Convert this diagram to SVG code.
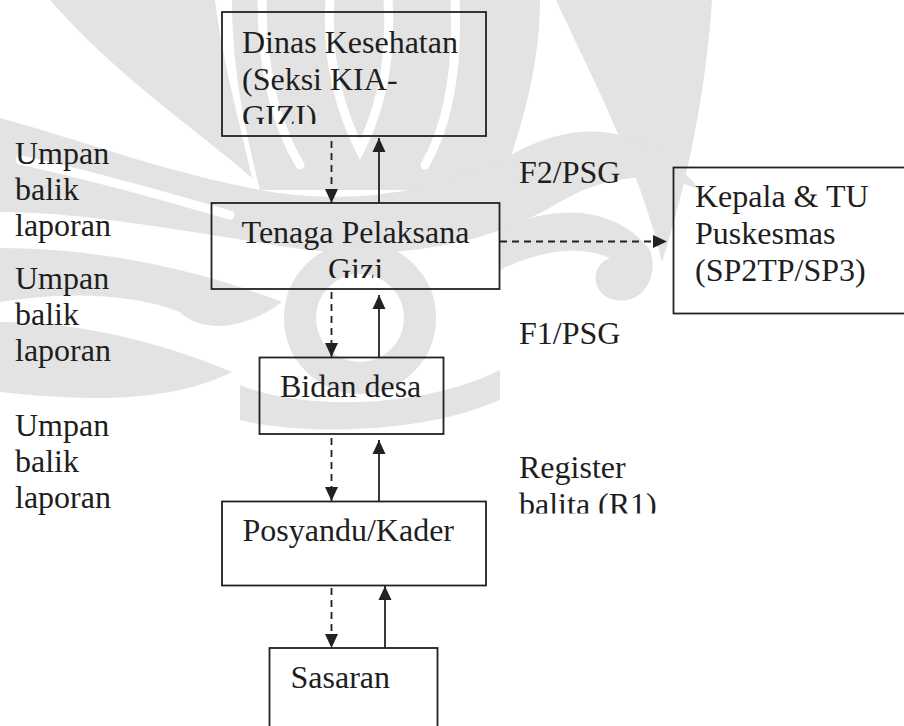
<svg xmlns="http://www.w3.org/2000/svg" width="904" height="726" viewBox="0 0 904 726">
  <style>
    .box { fill: none; stroke: #222; stroke-width: 1.8; }
    .lbl { font-family: "Liberation Serif", "Times New Roman", serif; font-size: 32px; fill: #1e1e1e; }
    .up { stroke: #222; stroke-width: 1.8; fill: none; marker-end: url(#head); }
    .down { stroke: #222; stroke-width: 1.8; fill: none; stroke-dasharray: 7 5; marker-end: url(#head); }
    .emblem { fill: #e3e3e3; }
    .cut { fill: none; stroke: #ffffff; stroke-width: 9; stroke-linecap: round; }
  </style>
  <defs>
    <marker id="head" viewBox="0 0 14 14" refX="14" refY="7" markerWidth="14" markerHeight="14" markerUnits="userSpaceOnUse" orient="auto">
      <path d="M0,0.5 L14,7 L0,13.5 Z" fill="#222"/>
    </marker>
    <clipPath id="clipDinas"><rect x="222" y="12" width="264" height="112"/></clipPath>
    <clipPath id="clipTenaga"><rect x="211" y="203" width="289" height="75"/></clipPath>
    <clipPath id="clipRegister"><rect x="500" y="440" width="200" height="73.5"/></clipPath>
  </defs>

  <rect width="904" height="726" fill="#ffffff"/>

  <!-- faint background emblem -->
  <g id="emblem">
    <!-- outer horns -->
    <path class="emblem" d="M50,0 L215,0 C222,60 238,115 252,178 C200,132 118,78 50,0 Z"/>
    <path class="emblem" d="M556,0 L712,0 C706,90 688,180 662,262 C640,170 598,90 556,0 Z"/>
    <!-- central flames -->
    <path class="emblem" d="M232,0 L540,0 C540,70 520,130 500,190 L260,190 C245,130 232,70 232,0 Z"/>
    <path class="cut" d="M262,0 C262,70 276,125 300,165"/>
    <path class="cut" d="M330,0 C326,60 340,110 360,150 C380,110 392,60 388,0"/>
    <path class="cut" d="M455,0 C458,70 448,125 425,165"/>
    <!-- middle band with side curls -->
    <path class="emblem" d="M0,118 C80,140 160,170 250,188 C330,205 430,200 520,150 C600,110 660,140 700,190 C660,172 610,172 560,202 C480,250 380,262 280,246 C180,230 80,212 0,212 Z"/>
    <path class="cut" d="M20,160 C90,175 160,195 230,215"/>
    <path class="emblem" d="M0,248 C100,248 200,270 282,302 C242,332 200,332 180,312 C130,292 60,292 0,302 Z"/>
    <path class="emblem" d="M0,322 C80,322 160,342 232,372 C172,402 90,402 0,392 Z"/>
    <path class="emblem" d="M500,230 C560,200 620,210 650,250 C660,280 640,305 615,300 C590,295 590,265 610,258 C580,245 540,250 500,270 Z"/>
    <!-- central ring and base -->
    <circle cx="360" cy="318" r="60" fill="none" stroke="#e3e3e3" stroke-width="32"/>
    <path class="emblem" d="M240,385 C300,410 420,410 500,370 L500,400 C420,435 300,435 240,420 Z"/>
  </g>

  <!-- arrows between levels -->
  <g id="connectors">
    <line class="down" x1="331.5" y1="141" x2="331.5" y2="203"/>
    <line class="up" x1="379" y1="203" x2="379" y2="138"/>
    <line class="down" x1="331.5" y1="292" x2="331.5" y2="357"/>
    <line class="up" x1="379" y1="357" x2="379" y2="295"/>
    <line class="down" x1="331.5" y1="438" x2="331.5" y2="501"/>
    <line class="up" x1="379" y1="501" x2="379" y2="440"/>
    <line class="down" x1="331.5" y1="588" x2="331.5" y2="648"/>
    <line class="up" x1="385" y1="648" x2="385" y2="586"/>
    <line class="down" x1="500" y1="241.5" x2="667" y2="241.5"/>
  </g>

  <g id="dinas">
    <rect class="box" x="222" y="12" width="264" height="124"/>
    <g clip-path="url(#clipDinas)">
      <text class="lbl" x="242" y="53">Dinas Kesehatan</text>
      <text class="lbl" x="242" y="90">(Seksi KIA-</text>
      <text class="lbl" x="242" y="127">GIZI)</text>
    </g>
  </g>

  <g id="tenaga">
    <rect class="box" x="211.5" y="203" width="288" height="86"/>
    <g clip-path="url(#clipTenaga)">
      <text class="lbl" x="355.5" y="243" text-anchor="middle">Tenaga Pelaksana</text>
      <text class="lbl" x="355.5" y="280" text-anchor="middle">Gizi</text>
    </g>
  </g>

  <g id="kepala">
    <rect class="box" x="673.5" y="167.5" width="240" height="146"/>
    <text class="lbl" x="695" y="207">Kepala &amp; TU</text>
    <text class="lbl" x="695" y="244">Puskesmas</text>
    <text class="lbl" x="695" y="281">(SP2TP/SP3)</text>
  </g>

  <g id="bidan">
    <rect class="box" x="259.5" y="357.5" width="184" height="76.5"/>
    <text class="lbl" x="280" y="397">Bidan desa</text>
  </g>

  <g id="posyandu">
    <rect class="box" x="222" y="501.5" width="264" height="84"/>
    <text class="lbl" x="242.5" y="541">Posyandu/Kader</text>
  </g>

  <g id="sasaran">
    <rect class="box" x="269.5" y="648" width="168" height="100"/>
    <text class="lbl" x="290.5" y="688">Sasaran</text>
  </g>

  <!-- side labels -->
  <g id="labels">
    <text class="lbl" x="15" y="164">Umpan</text>
    <text class="lbl" x="15" y="200">balik</text>
    <text class="lbl" x="15" y="236">laporan</text>
    <text class="lbl" x="15" y="289">Umpan</text>
    <text class="lbl" x="15" y="325">balik</text>
    <text class="lbl" x="15" y="361">laporan</text>
    <text class="lbl" x="15" y="436">Umpan</text>
    <text class="lbl" x="15" y="472">balik</text>
    <text class="lbl" x="15" y="508">laporan</text>
    <text class="lbl" x="519" y="183">F2/PSG</text>
    <text class="lbl" x="519" y="344">F1/PSG</text>
    <text class="lbl" x="519" y="478">Register</text>
    <g clip-path="url(#clipRegister)">
      <text class="lbl" x="519" y="515">balita (R1)</text>
    </g>
  </g>
</svg>
